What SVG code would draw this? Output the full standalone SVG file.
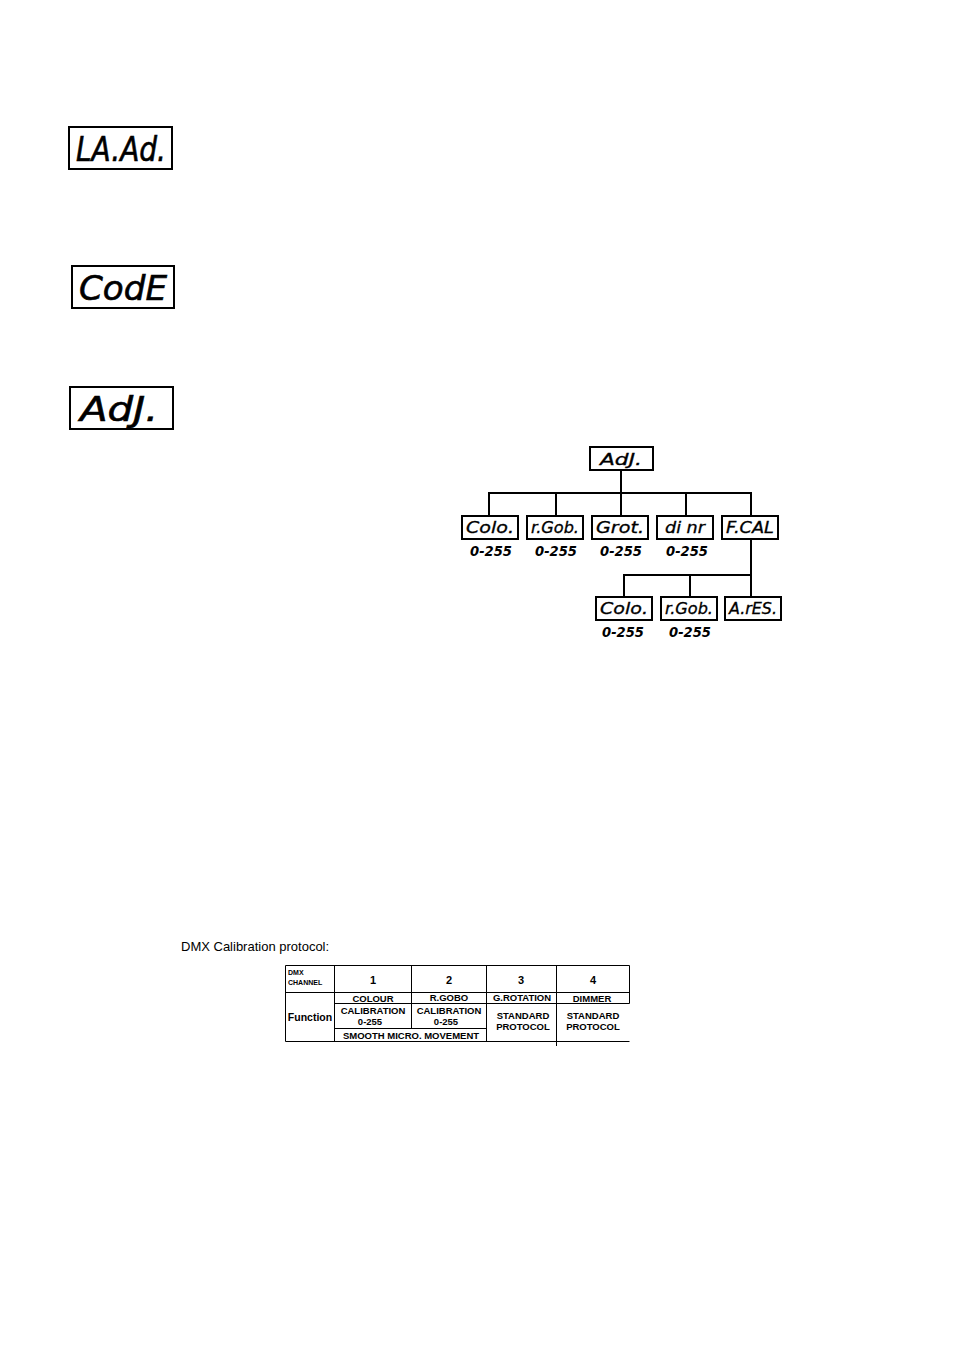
<svg xmlns="http://www.w3.org/2000/svg" width="954" height="1350" viewBox="0 0 954 1350">
<style>
.big{fill:#fff;stroke:#000;stroke-width:2}
.bigt{font-family:"DejaVu Sans",sans-serif;font-style:oblique;font-size:33px;fill:#000;stroke:#000;stroke-width:0.6}
.sb{fill:#fff;stroke:#000;stroke-width:2}
.st{font-family:"DejaVu Sans",sans-serif;font-style:oblique;font-size:15px;fill:#000;stroke:#000;stroke-width:0.3;text-anchor:middle}
.rng{font-family:"DejaVu Sans",sans-serif;font-style:oblique;font-weight:bold;font-size:14px;fill:#000;text-anchor:middle}
.con{stroke:#000;stroke-width:2;fill:none}
.tl{stroke:#000;stroke-width:1;fill:none}
.tt{font-family:"Liberation Sans",Arial,sans-serif;font-weight:bold;font-size:9.5px;fill:#000;text-anchor:middle}
.num{font-size:11px}
.fn{font-size:10.5px}
.tiny{font-family:"Liberation Sans",Arial,sans-serif;font-weight:bold;font-size:7px;fill:#000}
</style>
<rect width="954" height="1350" fill="#fff"/>

<g id="disp-laad">
<rect class="big" x="69" y="127" width="103" height="42"/>
<text class="bigt" x="76" y="161" textLength="90" lengthAdjust="spacingAndGlyphs">LA.Ad.</text>
</g>
<g id="disp-code">
<rect class="big" x="72" y="266" width="102" height="42"/>
<text class="bigt" x="79" y="300" textLength="88" lengthAdjust="spacingAndGlyphs">CodE</text>
</g>
<g id="disp-adj">
<rect class="big" x="70" y="387" width="103" height="42"/>
<text class="bigt" x="80" y="421" textLength="78" lengthAdjust="spacingAndGlyphs">AdJ.</text>
</g>

<g id="connectors">
<path class="con" d="M621 470 V493 M489 516 V493 H751 V516 M556 493 V516 M621 493 V516 M686 493 V516"/>
<path class="con" d="M751 539 V597 M624 597 V575 H751 M690 575 V597"/>
</g>

<g id="tree-adj">
<rect class="sb" x="590" y="447" width="63" height="23"/>
<text class="st" x="621" y="465" textLength="42" lengthAdjust="spacingAndGlyphs">AdJ.</text>
</g>
<g id="tree-colo">
<rect class="sb" x="462" y="516" width="56" height="23"/>
<text class="st" x="490" y="533" textLength="48" lengthAdjust="spacingAndGlyphs">Colo.</text>
<text class="rng" x="491" y="556" textLength="42" lengthAdjust="spacingAndGlyphs">0-255</text>
</g>
<g id="tree-rgob">
<rect class="sb" x="527" y="516" width="56" height="23"/>
<text class="st" x="555" y="533" textLength="48" lengthAdjust="spacingAndGlyphs">r.Gob.</text>
<text class="rng" x="556" y="556" textLength="42" lengthAdjust="spacingAndGlyphs">0-255</text>
</g>
<g id="tree-grot">
<rect class="sb" x="592" y="516" width="56" height="23"/>
<text class="st" x="620" y="533" textLength="48" lengthAdjust="spacingAndGlyphs">Grot.</text>
<text class="rng" x="621" y="556" textLength="42" lengthAdjust="spacingAndGlyphs">0-255</text>
</g>
<g id="tree-dinr">
<rect class="sb" x="657" y="516" width="56" height="23"/>
<text class="st" x="685" y="533" textLength="40" lengthAdjust="spacingAndGlyphs">di nr</text>
<text class="rng" x="687" y="556" textLength="42" lengthAdjust="spacingAndGlyphs">0-255</text>
</g>
<g id="tree-fcal">
<rect class="sb" x="722" y="516" width="56" height="23"/>
<text class="st" x="750" y="533" textLength="48" lengthAdjust="spacingAndGlyphs">F.CAL</text>
</g>
<g id="tree-colo2">
<rect class="sb" x="596" y="597" width="56" height="23"/>
<text class="st" x="624" y="614" textLength="48" lengthAdjust="spacingAndGlyphs">Colo.</text>
<text class="rng" x="623" y="637" textLength="42" lengthAdjust="spacingAndGlyphs">0-255</text>
</g>
<g id="tree-rgob2">
<rect class="sb" x="661" y="597" width="56" height="23"/>
<text class="st" x="689" y="614" textLength="48" lengthAdjust="spacingAndGlyphs">r.Gob.</text>
<text class="rng" x="690" y="637" textLength="42" lengthAdjust="spacingAndGlyphs">0-255</text>
</g>
<g id="tree-ares">
<rect class="sb" x="725" y="597" width="56" height="23"/>
<text class="st" x="753" y="614" textLength="48" lengthAdjust="spacingAndGlyphs">A.rES.</text>
</g>

<g id="table">
<text x="181" y="951" font-family="'Liberation Sans',Arial,sans-serif" font-size="13" fill="#000">DMX Calibration protocol:</text>
<path class="tl" d="M285.5 965.5 H629.5 V1003.5 M285.5 965.5 V1041.5 H557 M285.5 992.5 H629.5 M334.5 965.5 V1041.5 M411.5 965.5 V1028.5 M486.5 965.5 V1041.5 M556.5 965.5 V1046 M334.5 1003.5 H629.5 M334.5 1028.5 H486.5 M556.5 1041.5 H629.5"/>
<text class="tiny" x="288" y="975">DMX</text>
<text class="tiny" x="288" y="985">CHANNEL</text>
<text class="tt num" x="373" y="984">1</text>
<text class="tt num" x="449" y="984">2</text>
<text class="tt num" x="521" y="984">3</text>
<text class="tt num" x="593" y="984">4</text>
<text class="tt" x="373" y="1002">COLOUR</text>
<text class="tt" x="449" y="1001">R.GOBO</text>
<text class="tt" x="522" y="1001">G.ROTATION</text>
<text class="tt" x="592" y="1002">DIMMER</text>
<text class="tt fn" x="310" y="1021">Function</text>
<text class="tt" x="373" y="1014">CALIBRATION</text>
<text class="tt" x="370" y="1025">0-255</text>
<text class="tt" x="449" y="1014">CALIBRATION</text>
<text class="tt" x="446" y="1025">0-255</text>
<text class="tt" x="523" y="1019">STANDARD</text>
<text class="tt" x="523" y="1030">PROTOCOL</text>
<text class="tt" x="593" y="1019">STANDARD</text>
<text class="tt" x="593" y="1030">PROTOCOL</text>
<text class="tt" x="411" y="1039">SMOOTH  MICRO.  MOVEMENT</text>
</g>
</svg>
